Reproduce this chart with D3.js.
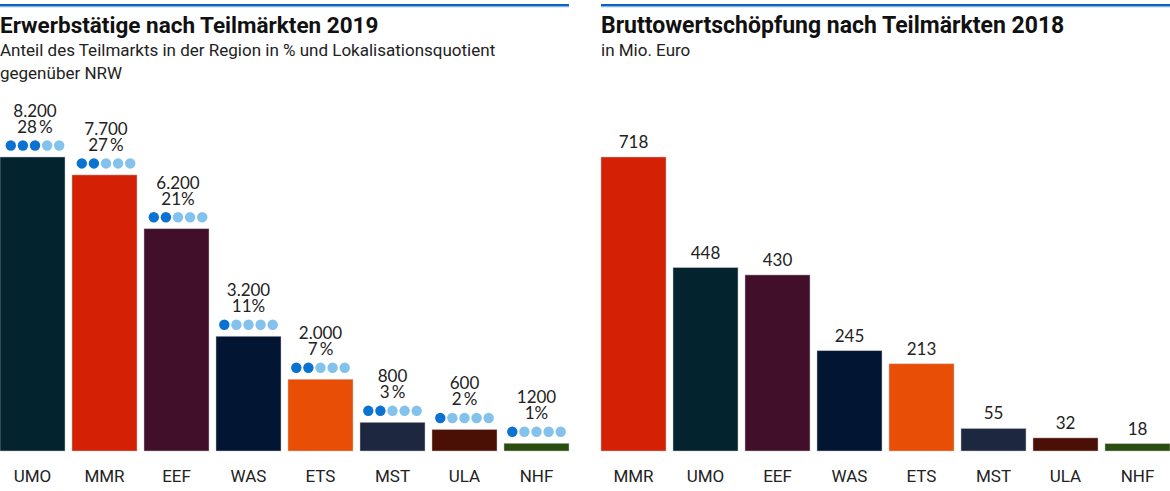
<!DOCTYPE html>
<html><head><meta charset="utf-8">
<script src="https://cdn.jsdelivr.net/npm/d3@7"></script>
<style>
html,body{margin:0;padding:0;background:#fff;}
svg{display:block;}
</style></head>
<body><svg id="c" width="1170" height="491"></svg>
<script>
// ---- Data ----
const leftTitle = "Erwerbstätige nach Teilmärkten 2019";
const leftSubtitle = ["Anteil des Teilmarkts in der Region in % und Lokalisationsquotient", "gegenüber NRW"];
const leftCats = ["UMO","MMR","EEF","WAS","ETS","MST","ULA","NHF"];
const leftValues = [8200,7700,6200,3200,2000,800,600,215];
const leftValueLabels = ["8.200","7.700","6.200","3.200","2.000","800","600","1200"];
const leftShareLabels = ["28\u2009%","27\u2009%","21%","11%","7\u2009%","3\u2009%","2\u2009%","1%"];
const leftQuotient = [3,2,2,1,2,2,1,1];

const rightTitle = "Bruttowertschöpfung nach Teilmärkten 2018";
const rightSubtitle = ["in Mio. Euro"];
const rightCats = ["MMR","UMO","EEF","WAS","ETS","MST","ULA","NHF"];
const rightValues = [718,448,430,245,213,55,32,18];

const catColors = {UMO:"#03242f",MMR:"#d42106",EEF:"#420f2b",WAS:"#021533",ETS:"#e84e05",MST:"#1e2740",ULA:"#4a0f05",NHF:"#2a4d10"};
const dotDark = "#0a72d0", dotLight = "#82c2ec";

const svg = d3.select("#c");
const titleFont = "Roboto, 'Liberation Sans', sans-serif";
const numFont = "Lato, 'Open Sans', sans-serif";

function panel(x0, x1, title, subtitle, cats, values, opts){
  const g = svg.append("g");
  // top rule
  g.append("rect").attr("x", x0).attr("y", 4).attr("width", x1 - x0).attr("height", 2.5).attr("fill", "#0f62c6");
  g.append("rect").attr("x", x0).attr("y", 6.5).attr("width", x1 - x0).attr("height", 0.8).attr("fill", "#8fb8e8");
  g.append("text").attr("x", x0).attr("y", 33).attr("font-family", titleFont).attr("font-weight", 700)
    .attr("font-size", opts.titleSize).attr("fill", "#111").text(title);
  subtitle.forEach((s,i)=>{
    g.append("text").attr("x", x0).attr("y", 56 + i*23).attr("font-family", titleFont)
      .attr("font-size", 17).attr("fill", "#222").text(s);
  });
  const x = d3.scaleBand().domain(cats).range([opts.bx0, opts.bx0 + 72*cats.length - 7]).paddingInner(7/72).paddingOuter(0);
  const y = d3.scaleLinear().domain([0, opts.ymax]).range([451, 157]);
  const bars = g.append("g");
  bars.selectAll("rect").data(cats).join("rect")
    .attr("x", d=>x(d)).attr("width", x.bandwidth())
    .attr("y", (d,i)=>y(values[i])).attr("height", (d,i)=>451 - y(values[i]))
    .attr("fill", d=>catColors[d]).attr("stroke", "#c9c4c4").attr("stroke-width", 0.7).attr("stroke-opacity", 0.7);
  // category axis
  const ax = g.append("g").attr("transform", "translate(0,451)")
    .call(d3.axisBottom(x).tickSize(0).tickPadding(19));
  ax.select(".domain").remove();
  ax.selectAll("text").attr("font-family", titleFont).attr("font-size", 17).attr("fill", "#222");
  return {g, x, y};
}

// Left panel
const L = panel(0, 569, leftTitle, leftSubtitle, leftCats, leftValues, {bx0:0, ymax:8200, titleSize:22.5});
leftCats.forEach((c,i)=>{
  const cx = L.x(c) + L.x.bandwidth()/2 + (i===0?2.5:(i<3?1.5:0));
  const top = L.y(leftValues[i]);
  const t = L.g.append("text").attr("text-anchor","middle")
    .attr("font-family", numFont).attr("font-size", 17).attr("fill","#222");
  t.append("tspan").attr("x", cx).attr("y", top - 40).text(leftValueLabels[i]);
  t.append("tspan").attr("x", cx).attr("y", top - 24).text(leftShareLabels[i]);
  const dots = d3.range(5);
  L.g.selectAll(null).data(dots).join("circle")
    .attr("cx", k=>cx + (k-2)*12.1).attr("cy", top - 11.5).attr("r", 5.2)
    .attr("fill", k=> k < leftQuotient[i] ? dotDark : dotLight);
});

// Right panel
const R = panel(601, 1170, rightTitle, rightSubtitle, rightCats, rightValues, {bx0:601, ymax:718, titleSize:23});
rightCats.forEach((c,i)=>{
  const cx = R.x(c) + R.x.bandwidth()/2;
  R.g.append("text").attr("x", cx).attr("y", R.y(rightValues[i]) - 9).attr("text-anchor","middle")
    .attr("font-family", numFont).attr("font-size", 17).attr("fill","#222").text(rightValues[i]);
});
</script>
</body></html>
